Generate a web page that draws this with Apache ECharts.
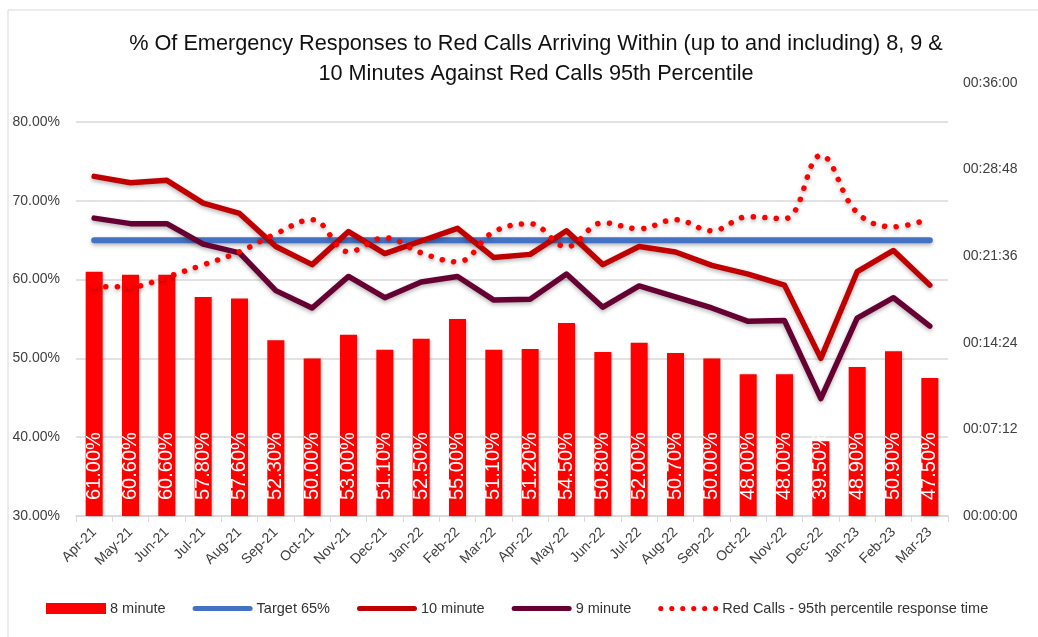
<!DOCTYPE html>
<html>
<head>
<meta charset="utf-8">
<style>
  html, body { margin: 0; padding: 0; background: #fff; }
  #chart { width: 1038px; height: 637px; }
</style>
<script src="https://cdn.jsdelivr.net/npm/echarts@6/dist/echarts.min.js"></script>
</head>
<body>
<div id="chart"></div>
<script>
// months on the x axis
const months = ['Apr-21', 'May-21', 'Jun-21', 'Jul-21', 'Aug-21', 'Sep-21', 'Oct-21', 'Nov-21', 'Dec-21', 'Jan-22', 'Feb-22', 'Mar-22',
  'Apr-22', 'May-22', 'Jun-22', 'Jul-22', 'Aug-22', 'Sep-22', 'Oct-22', 'Nov-22', 'Dec-22', 'Jan-23', 'Feb-23', 'Mar-23']

// % within 8 / 9 / 10 minutes
const eightMin = [61.0, 60.6, 60.6, 57.8, 57.6, 52.3, 50.0, 53.0, 51.1, 52.5, 55.0, 51.1,
  51.2, 54.5, 50.8, 52.0, 50.7, 50.0, 48.0, 48.0, 39.5, 48.9, 50.9, 47.5]
const nineMin = [67.8, 67.1, 67.1, 64.5, 63.4, 58.6, 56.4, 60.4, 57.7, 59.7, 60.4, 57.4,
  57.5, 60.7, 56.5, 59.2, 57.8, 56.4, 54.7, 54.8, 44.9, 55.1, 57.7, 54.1]
const tenMin = [73.1, 72.3, 72.6, 69.7, 68.4, 64.2, 61.9, 66.1, 63.3, 64.9, 66.5, 62.8,
  63.2, 66.2, 61.9, 64.2, 63.5, 61.8, 60.7, 59.3, 50.0, 61.0, 63.7, 59.3]
const target = [65, 65, 65, 65, 65, 65, 65, 65, 65, 65, 65, 65,
  65, 65, 65, 65, 65, 65, 65, 65, 65, 65, 65, 65]

// red calls 95th percentile (mm:ss)
const p95 = ['19:03', '19:03', '19:53', '20:53', '21:58', '23:28', '24:38', '21:58', '23:08', '21:53', '21:08', '23:38',
  '24:18', '22:23', '24:23', '23:53', '24:38', '23:43', '24:53', '24:43', '29:59', '25:13', '24:03', '24:43']

// left axis ticks (%) and right axis ticks (seconds)
const pctTicks = [30, 40, 50, 60, 70, 80]
const timeTicks = [0, 432, 864, 1296, 1728, 2160]

function toSec(s) {
  const p = s.split(':')
  return (+p[0]) * 60 + (+p[1])
}
function hms(v) {
  const h = Math.floor(v / 3600)
  const m = Math.floor((v % 3600) / 60)
  const s = Math.round(v % 60)
  const pad = (n) => (n < 10 ? '0' : '') + n
  return pad(h) + ':' + pad(m) + ':' + pad(s)
}

// legend icons: thick rounded line and a row of dots
const lineIcon = 'path://M2.5,0 L57.5,0 A2.5,2.5 0 0,1 57.5,5 L2.5,5 A2.5,2.5 0 0,1 2.5,0 Z'
let dotIcon = 'path://'
for (let i = 0; i < 6; i++) {
  const cx = 2.7 + i * 11.5
  dotIcon += 'M' + (cx - 2.7) + ',2.7 A2.7,2.7 0 1,1 ' + (cx + 2.7) + ',2.7 A2.7,2.7 0 1,1 ' + (cx - 2.7) + ',2.7 Z '
}

const font = 'Liberation Sans'
const chart = echarts.init(document.getElementById('chart'))

const shadow = {
  shadowColor: 'rgba(0,0,0,0.3)',
  shadowBlur: 4,
  shadowOffsetY: 2
}

chart.setOption({
  backgroundColor: '#fff',
  animation: false,
  title: {
    text: '% Of Emergency Responses to Red Calls Arriving Within (up to and including) 8, 9 &\n10 Minutes Against Red Calls 95th Percentile',
    left: 531,
    top: 24,
    textAlign: 'center',
    textStyle: {
      fontFamily: font,
      fontSize: 21.7,
      fontWeight: 'normal',
      color: '#111',
      lineHeight: 30
    }
  },
  graphic: [{
    type: 'rect',
    shape: { x: 8, y: 10, width: 1060, height: 660 },
    style: { fill: 'none', stroke: '#d9d9d9', lineWidth: 1 },
    silent: true
  }],
  legend: {
    bottom: 16,
    left: 41,
    itemWidth: 60,
    itemHeight: 11,
    itemGap: 27,
    textStyle: { fontFamily: font, fontSize: 14.5, color: '#333', padding: [0, 0, 0, -1] },
    data: [
      { name: '8 minute', icon: 'rect' },
      { name: 'Target 65%', icon: lineIcon },
      { name: '10 minute', icon: lineIcon },
      { name: '9 minute', icon: lineIcon },
      { name: 'Red Calls - 95th percentile response time', icon: dotIcon }
    ]
  },
  grid: [
    { left: 76, right: 90, top: 122, bottom: 121 },
    { left: 76, right: 90, top: 83, bottom: 121 }
  ],
  xAxis: [
    {
      type: 'category',
      gridIndex: 0,
      data: months,
      axisLine: { lineStyle: { color: '#d9d9d9', width: 1.5 } },
      axisTick: { show: true, length: 6, lineStyle: { color: '#d9d9d9' } },
      axisLabel: {
        rotate: 45,
        margin: 14,
        interval: 0,
        fontFamily: font,
        fontSize: 14,
        color: '#404040'
      }
    },
    {
      type: 'category',
      gridIndex: 1,
      data: months,
      show: false
    }
  ],
  yAxis: [
    {
      type: 'value',
      gridIndex: 0,
      min: pctTicks[0],
      max: pctTicks[pctTicks.length - 1],
      interval: pctTicks[1] - pctTicks[0],
      axisLine: { show: false },
      axisTick: { show: false },
      splitLine: { lineStyle: { color: '#d9d9d9', width: 1.5 } },
      axisLabel: {
        margin: 16,
        fontFamily: font,
        fontSize: 14,
        color: '#404040',
        formatter: (v) => v.toFixed(2) + '%'
      }
    },
    {
      type: 'value',
      gridIndex: 1,
      position: 'right',
      min: timeTicks[0],
      max: timeTicks[timeTicks.length - 1],
      interval: timeTicks[1] - timeTicks[0],
      axisLine: { show: false },
      axisTick: { show: false },
      splitLine: { show: false },
      axisLabel: {
        margin: 15,
        fontFamily: font,
        fontSize: 14,
        color: '#404040',
        formatter: (v) => hms(v)
      }
    }
  ],
  series: [
    {
      name: '8 minute',
      type: 'bar',
      xAxisIndex: 0,
      yAxisIndex: 0,
      barWidth: 17,
      data: eightMin,
      itemStyle: { color: '#ff0000', shadowColor: 'rgba(0,0,0,0.25)', shadowBlur: 3, shadowOffsetX: 1, shadowOffsetY: 1 },
      label: {
        show: true,
        position: 'insideBottom',
        distance: 16,
        rotate: 90,
        align: 'left',
        verticalAlign: 'middle',
        fontFamily: font,
        fontSize: 20,
        color: '#fff',
        formatter: (p) => p.value.toFixed(2) + '%'
      }
    },
    {
      name: 'Target 65%',
      type: 'line',
      xAxisIndex: 0,
      yAxisIndex: 0,
      data: target,
      symbol: 'none',
      itemStyle: { color: '#4472c4' },
      lineStyle: Object.assign({ color: '#4472c4', width: 6, cap: 'round' }, shadow)
    },
    {
      name: '10 minute',
      type: 'line',
      xAxisIndex: 0,
      yAxisIndex: 0,
      data: tenMin,
      symbol: 'none',
      itemStyle: { color: '#c00000' },
      lineStyle: Object.assign({ color: '#c00000', width: 5.5, cap: 'round', join: 'round' }, shadow)
    },
    {
      name: '9 minute',
      type: 'line',
      xAxisIndex: 0,
      yAxisIndex: 0,
      data: nineMin,
      symbol: 'none',
      itemStyle: { color: '#660033' },
      lineStyle: Object.assign({ color: '#660033', width: 5.5, cap: 'round', join: 'round' }, shadow)
    },
    {
      name: 'Red Calls - 95th percentile response time',
      type: 'line',
      xAxisIndex: 1,
      yAxisIndex: 1,
      data: p95.map(toSec),
      symbol: 'none',
      smooth: 0.4,
      itemStyle: { color: '#ff0000' },
      lineStyle: Object.assign({ color: '#ff0000', width: 5.5, type: [0.1, 11.5], cap: 'round' }, shadow)
    }
  ]
})
</script>
</body>
</html>
